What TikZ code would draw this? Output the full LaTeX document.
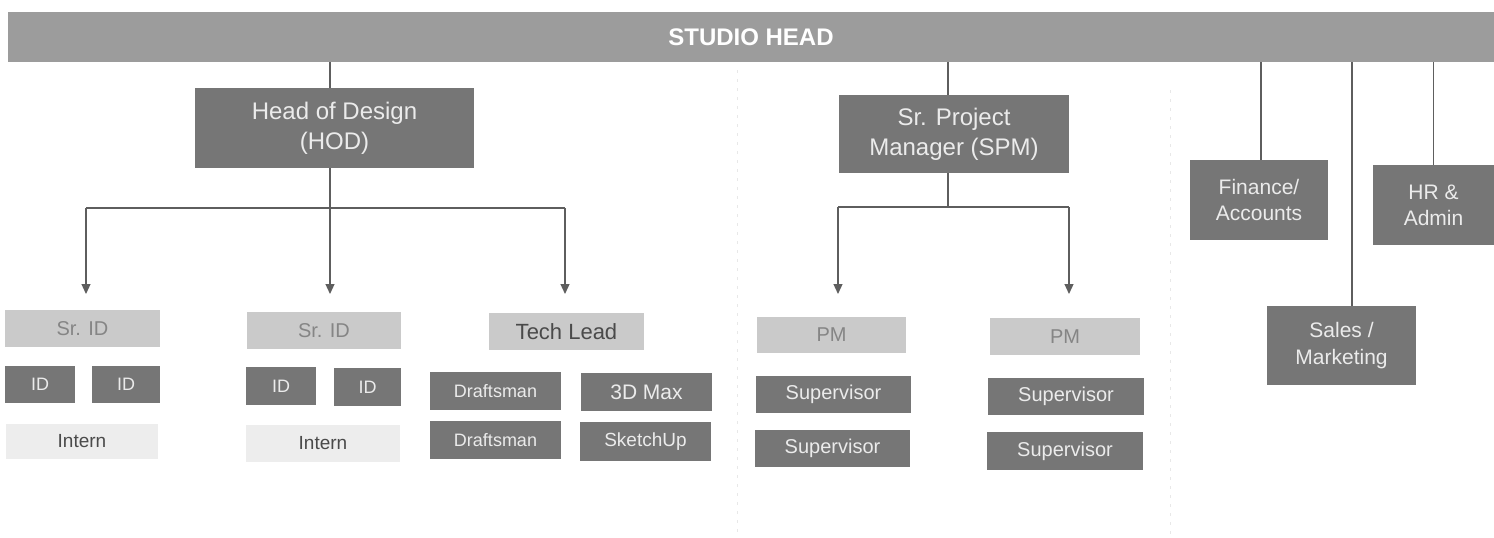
\documentclass[tikz,border=0pt]{standalone}
\usepackage{fontspec}
\setmainfont{Liberation Sans}
\usetikzlibrary{arrows.meta}
\newcommand\boxfont[1]{\fontsize{#1}{\fpeval{1.25*#1}}\selectfont}
\tikzset{
  box/.style={rectangle, inner sep=0pt, align=center, font=\boxfont{#1}},
  darkbox/.style={box=#1, fill=boxdark, text=boxtext},
  lightbox/.style={box=#1, fill=boxlight, text=lighttext},
  palebox/.style={box=#1, fill=boxpale, text=paletext},
  link/.style={draw=linegray, line width=1.2pt},
  arr/.style={link, -{Triangle[length=10pt,width=9pt]}},
  divider/.style={draw=gray!18, line width=0.8pt, dash pattern=on 3pt off 6pt},
}
\definecolor{barfill}{HTML}{9C9C9C}
\definecolor{boxdark}{HTML}{767676}
\definecolor{boxtext}{HTML}{EBEBEB}
\definecolor{boxlight}{HTML}{CACACA}
\definecolor{lighttext}{HTML}{858585}
\definecolor{boxpale}{HTML}{EDEDED}
\definecolor{paletext}{HTML}{4A4A4A}
\definecolor{linegray}{HTML}{5E5E5E}
\begin{document}
\begin{tikzpicture}[x=1pt, y=-1pt]
\useasboundingbox (0,0) rectangle (1494,538);
\fill[white] (0,0) rectangle (1494,538);

% faint column dividers
\draw[divider] (737,70) -- (737,538);
\draw[divider] (1170,90) -- (1170,538);

% top bar
\node[box=24, fill=barfill, text=white, minimum width=1486pt, minimum height=50pt, font=\boxfont{24}\bfseries] (studio) at (751,37) {STUDIO HEAD};

% second level
\node[darkbox=24, minimum width=279pt, minimum height=80pt] (hod) at (334.5,128) {Head of Design\\(HOD)};
\node[darkbox=24, minimum width=230pt, minimum height=78pt] (spm) at (954,134) {Sr. Project\\Manager (SPM)};
\node[darkbox=21, minimum width=138pt, minimum height=80pt] (fin) at (1259,200) {Finance/\\Accounts};
\node[darkbox=21, minimum width=121pt, minimum height=80pt] (hr) at (1433.5,205) {HR \&\\Admin};
\node[darkbox=21, minimum width=149pt, minimum height=79pt] (sales) at (1341.5,345.5) {Sales /\\Marketing};

% design team, column 1
\node[lightbox=20, minimum width=155pt, minimum height=37pt] (srid1) at (82.5,328.5) {Sr. ID};
\node[darkbox=18, minimum width=70pt, minimum height=37pt] (id1a) at (40,384.5) {ID};
\node[darkbox=18, minimum width=68pt, minimum height=37pt] (id1b) at (126,384.5) {ID};
\node[palebox=19, minimum width=152pt, minimum height=35pt] (intern1) at (82,441.5) {Intern};

% design team, column 2
\node[lightbox=20, minimum width=154pt, minimum height=37pt] (srid2) at (324,330.5) {Sr. ID};
\node[darkbox=18, minimum width=70pt, minimum height=38pt] (id2a) at (281,386) {ID};
\node[darkbox=18, minimum width=67pt, minimum height=38pt] (id2b) at (367.5,387) {ID};
\node[palebox=19, minimum width=154pt, minimum height=37pt] (intern2) at (323,443.5) {Intern};

% technical team
\node[lightbox=22, text=paletext, minimum width=155pt, minimum height=37pt] (tech) at (566.5,331.5) {Tech Lead};
\node[darkbox=18, minimum width=131pt, minimum height=38pt] (draft1) at (495.5,391) {Draftsman};
\node[darkbox=21, minimum width=131pt, minimum height=38pt] (max) at (646.5,392) {3D Max};
\node[darkbox=18, minimum width=131pt, minimum height=38pt] (draft2) at (495.5,440) {Draftsman};
\node[darkbox=19, minimum width=131pt, minimum height=39pt] (sketch) at (645.5,441.5) {SketchUp};

% project teams
\node[lightbox=20, minimum width=149pt, minimum height=36pt] (pm1) at (831.5,335) {PM};
\node[lightbox=20, minimum width=150pt, minimum height=37pt] (pm2) at (1065,336.5) {PM};
\node[darkbox=20, minimum width=155pt, minimum height=37pt] (sup1) at (833.5,394.5) {Supervisor};
\node[darkbox=20, minimum width=156pt, minimum height=37pt] (sup2) at (1066,396.5) {Supervisor};
\node[darkbox=20, minimum width=155pt, minimum height=37pt] (sup3) at (832.5,448.5) {Supervisor};
\node[darkbox=20, minimum width=156pt, minimum height=38pt] (sup4) at (1065,451) {Supervisor};

% links from the studio head
\draw[link] ([xshift=-4.5pt]hod.north |- studio.south) -- ([xshift=-4.5pt]hod.north);
\draw[link] ([xshift=-6pt]spm.north |- studio.south) -- ([xshift=-6pt]spm.north);
\draw[link] ([xshift=2pt]fin.north |- studio.south) -- ([xshift=2pt]fin.north);
\draw[link] (hr.north |- studio.south) -- (hr.north);
\draw[link] ([xshift=10.5pt]sales.north |- studio.south) -- ([xshift=10.5pt]sales.north);

% design branch
\coordinate (hodj) at (330,208);
\coordinate (d1) at (86,294);
\coordinate (d2) at (330,294);
\coordinate (d3) at (565,294);
\draw[link] ([xshift=-4.5pt]hod.south) -- (hodj);
\draw[link] (d1 |- hodj) -- (d3 |- hodj);
\draw[arr] (d1 |- hodj) -- (d1);
\draw[arr] (d2 |- hodj) -- (d2);
\draw[arr] (d3 |- hodj) -- (d3);

% project branch
\coordinate (spmj) at (948,207);
\coordinate (p1) at (838,294);
\coordinate (p2) at (1069,294);
\draw[link] ([xshift=-6pt]spm.south) -- (spmj);
\draw[link] (p1 |- spmj) -- (p2 |- spmj);
\draw[arr] (p1 |- spmj) -- (p1);
\draw[arr] (p2 |- spmj) -- (p2);
\end{tikzpicture}
\end{document}
